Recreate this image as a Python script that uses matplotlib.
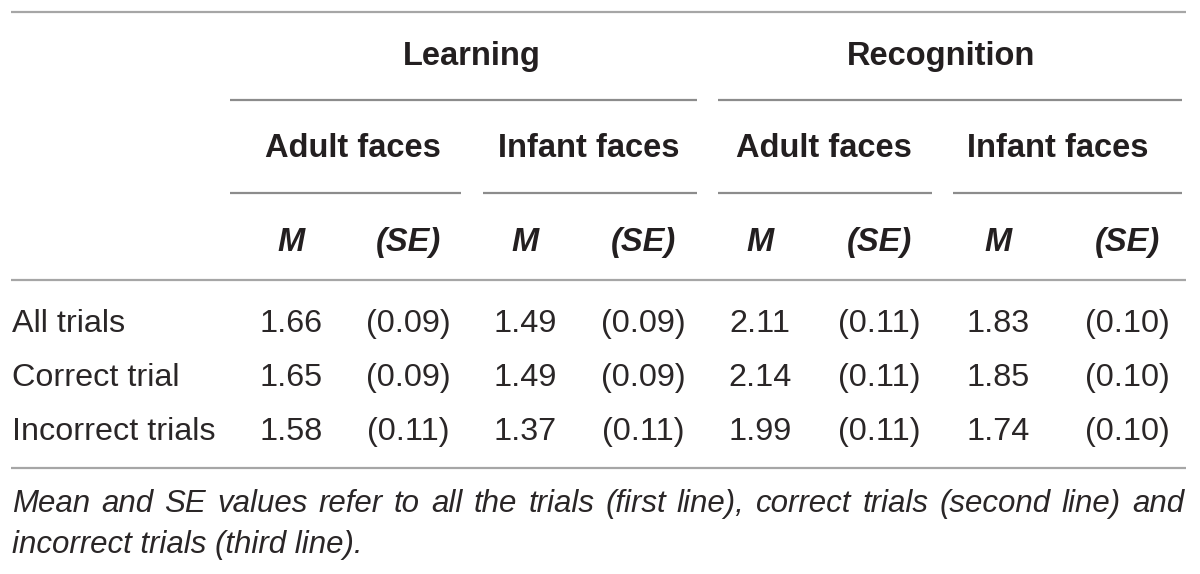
import matplotlib.pyplot as plt

plt.rcParams["font.family"] = ["Liberation Sans", "DejaVu Sans"]

# table content
groups = ["Learning", "Recognition"]
subgroups = ["Adult faces", "Infant faces", "Adult faces", "Infant faces"]
row_labels = ["All trials", "Correct trial", "Incorrect trials"]
learn_adult_m = ["1.66", "1.65", "1.58"]
learn_adult_se = ["(0.09)", "(0.09)", "(0.11)"]
learn_infant_m = ["1.49", "1.49", "1.37"]
learn_infant_se = ["(0.09)", "(0.09)", "(0.11)"]
recog_adult_m = ["2.11", "2.14", "1.99"]
recog_adult_se = ["(0.11)", "(0.11)", "(0.11)"]
recog_infant_m = ["1.83", "1.85", "1.74"]
recog_infant_se = ["(0.10)", "(0.10)", "(0.10)"]
note = ["Mean and SE values refer to all the trials (first line), correct trials (second line) and",
        "incorrect trials (third line)."]

columns = [learn_adult_m, learn_adult_se, learn_infant_m, learn_infant_se,
           recog_adult_m, recog_adult_se, recog_infant_m, recog_infant_se]

ink = "#231f20"
rule = "#a6a6a6"

fig = plt.figure(figsize=(12, 5.74), dpi=100)
ax = fig.add_axes([0, 0, 1, 1])
ax.set_xlim(0, 1200)
ax.set_ylim(574, 0)
ax.axis("off")

col_x = [291, 408, 525, 643, 760, 879, 998, 1127]
group_x = [472, 941]
sub_x = [353, 589, 824, 1058]
sub_spans = [(230, 461), (483, 697), (718, 932), (953, 1182)]
group_spans = [(230, 697), (718, 1182)]

# horizontal rules
for y in [12, 280, 468]:
    ax.plot([11, 1186], [y, y], color=rule, lw=1.6, solid_capstyle="butt")
for x0, x1 in group_spans:
    ax.plot([x0, x1], [100, 100], color="#8c8c8c", lw=1.6, solid_capstyle="butt")
for x0, x1 in sub_spans:
    ax.plot([x0, x1], [193, 193], color="#8c8c8c", lw=1.6, solid_capstyle="butt")

fs_head = 23.5
fs = 23.3
for x, g in zip(group_x, groups):
    ax.text(x, 65, g, ha="center", va="baseline", fontsize=fs_head,
            fontweight="bold", color=ink)
for x, s in zip(sub_x, subgroups):
    ax.text(x, 157, s, ha="center", va="baseline", fontsize=fs_head,
            fontweight="bold", color=ink)
for i, x in enumerate(col_x):
    lab = "M" if i % 2 == 0 else "(SE)"
    ax.text(x, 251, lab, ha="center", va="baseline", fontsize=fs_head,
            fontweight="bold", fontstyle="italic", color=ink)

row_y = [332, 386, 440]
for y, lab in zip(row_y, row_labels):
    ax.text(12, y, lab, ha="left", va="baseline", fontsize=fs, color="#2a2627")
for x, col in zip(col_x, columns):
    for y, v in zip(row_y, col):
        ax.text(x, y, v, ha="center", va="baseline", fontsize=fs, color="#2a2627")

# footnote: size chosen so the first line spans the table width
renderer = fig.canvas.get_renderer()
px_per_unit = ax.transData.transform((1, 0))[0] - ax.transData.transform((0, 0))[0]
probe = ax.text(0, 0, note[0], fontsize=20, fontstyle="italic")
w20 = probe.get_window_extent(renderer).width / px_per_unit
probe.remove()
fs_note = min(22.5, 20 * (1184 - 12) / w20)

words = note[0].split(" ")
items = [ax.text(0, 512, w, ha="left", va="baseline", fontsize=fs_note,
                 fontstyle="italic", color="#2a2627") for w in words]
widths = [t.get_window_extent(renderer).width / px_per_unit for t in items]
left, right = 12, 1184
gap = (right - left - sum(widths)) / (len(words) - 1)
x = left
for t, w in zip(items, widths):
    t.set_x(x)
    x += w + gap
ax.text(12, 553, note[1], ha="left", va="baseline", fontsize=fs_note,
        fontstyle="italic", color="#2a2627")

fig.savefig("out.png", dpi=100, facecolor="white")
